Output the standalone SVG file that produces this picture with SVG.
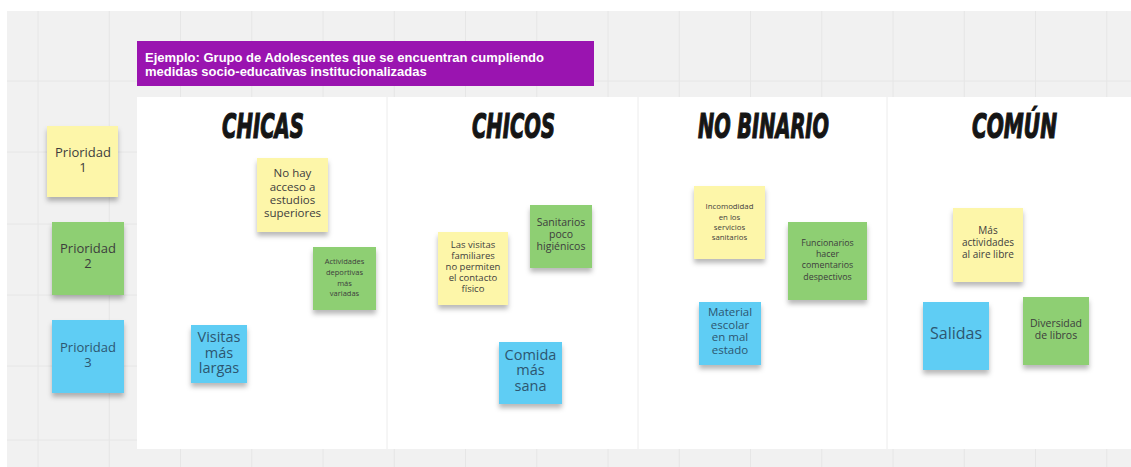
<svg xmlns="http://www.w3.org/2000/svg" width="1131" height="467" viewBox="0 0 1131 467">
<defs>
<filter id="sh" x="-20%" y="-20%" width="140%" height="150%">
<feDropShadow dx="0" dy="4" stdDeviation="2.5" flood-color="#000" flood-opacity="0.28"/>
</filter>
<style>
.grid{stroke:#e6e6e6;stroke-width:1}
.sep{stroke:#ececec;stroke-width:1}
.y{fill:#fdf6a9}
.g{fill:#8ecf73}
.b{fill:#5fcdf4}
.t{font-family:"Open Sans","DejaVu Sans",sans-serif;fill:#3d3d3d;text-anchor:middle}
.bt{fill:#2d5670}
.h{font-family:"DejaVu Sans Condensed","DejaVu Sans",sans-serif;font-weight:bold;font-style:italic;fill:#151515;stroke:#151515;stroke-width:1.2;font-size:34px}
.ban{font-family:"Liberation Sans",Arial,sans-serif;font-weight:bold;fill:#fff;font-size:13px}
</style>
</defs>
<rect width="1131" height="467" fill="#fff"/>
<rect x="7" y="11" width="1124" height="456" fill="#f1f1f1"/>
<g id="grid">
<path class="grid" d="M38 11V467M109.3 11V467M180.5 11V467M251.8 11V467M323 11V467M394.3 11V467M465.5 11V467M536.8 11V467M608 11V467M679.3 11V467M750.5 11V467M821.8 11V467M893 11V467M964.3 11V467M1035.5 11V467M1106.8 11V467M7 81H1131M7 152H1131M7 224H1131M7 295H1131M7 366H1131M7 440H1131"/>
</g>
<g id="board">
<rect x="137" y="97" width="994" height="352" fill="#fff"/>
<path class="sep" d="M387 97V449M638 97V449M887 97V449"/>
</g>
<g id="banner">
<rect x="137" y="41" width="457" height="45" fill="#9a14b0"/>
<text class="ban" x="145" y="62">Ejemplo: Grupo de Adolescentes que se encuentran cumpliendo</text>
<text class="ban" x="145" y="76">medidas socio-educativas institucionalizadas</text>
</g>
<g id="headers">
<text class="h" x="222" y="138" textLength="82" lengthAdjust="spacingAndGlyphs">CHICAS</text>
<text class="h" x="472" y="138" textLength="83" lengthAdjust="spacingAndGlyphs">CHICOS</text>
<text class="h" x="698" y="138" textLength="131" lengthAdjust="spacingAndGlyphs">NO BINARIO</text>
<text class="h" x="972" y="138" textLength="85" lengthAdjust="spacingAndGlyphs">COMÚN</text>
</g>
<g id="p1"><rect class="y" x="47" y="126" width="71" height="71" filter="url(#sh)"/>
<text class="t" font-size="13"><tspan x="83" y="157">Prioridad</tspan><tspan x="83" y="172">1</tspan></text></g>
<g id="p2"><rect class="g" x="52" y="222" width="72" height="73" filter="url(#sh)"/>
<text class="t" font-size="13"><tspan x="88" y="253">Prioridad</tspan><tspan x="88" y="268">2</tspan></text></g>
<g id="p3"><rect class="b" x="52" y="320" width="72" height="73" filter="url(#sh)"/>
<text class="t bt" font-size="13"><tspan x="88" y="352">Prioridad</tspan><tspan x="88" y="367">3</tspan></text></g>
<g id="chicas1"><rect class="y" x="257" y="158" width="71" height="74" filter="url(#sh)"/>
<text class="t" font-size="11.5"><tspan x="292.5" y="177">No hay</tspan><tspan x="292.5" y="191">acceso a</tspan><tspan x="292.5" y="204">estudios</tspan><tspan x="292.5" y="217">superiores</tspan></text></g>
<g id="chicas2"><rect class="g" x="313" y="247" width="63" height="63" filter="url(#sh)"/>
<text class="t" font-size="7.5"><tspan x="344.5" y="264">Actividades</tspan><tspan x="344.5" y="275">deportivas</tspan><tspan x="344.5" y="286">más</tspan><tspan x="344.5" y="296">variadas</tspan></text></g>
<g id="chicas3"><rect class="b" x="191" y="325" width="56" height="58" filter="url(#sh)"/>
<text class="t bt" font-size="14.5"><tspan x="219" y="342">Visitas</tspan><tspan x="219" y="358">más</tspan><tspan x="219" y="373">largas</tspan></text></g>
<g id="chicos1"><rect class="y" x="438" y="232" width="70" height="73" filter="url(#sh)"/>
<text class="t" font-size="9.5"><tspan x="473" y="248">Las visitas</tspan><tspan x="473" y="259">familiares</tspan><tspan x="473" y="270">no permiten</tspan><tspan x="473" y="281">el contacto</tspan><tspan x="473" y="292">físico</tspan></text></g>
<g id="chicos2"><rect class="g" x="530" y="205" width="62" height="63" filter="url(#sh)"/>
<text class="t" font-size="10.5"><tspan x="561" y="226">Sanitarios</tspan><tspan x="561" y="238">poco</tspan><tspan x="561" y="250">higiénicos</tspan></text></g>
<g id="chicos3"><rect class="b" x="499" y="342" width="63" height="62" filter="url(#sh)"/>
<text class="t bt" font-size="14.5"><tspan x="530.5" y="360">Comida</tspan><tspan x="530.5" y="375">más</tspan><tspan x="530.5" y="391">sana</tspan></text></g>
<g id="nb1"><rect class="y" x="694" y="186" width="71" height="73" filter="url(#sh)"/>
<text class="t" font-size="7.8"><tspan x="729.5" y="209">Incomodidad</tspan><tspan x="729.5" y="220">en los</tspan><tspan x="729.5" y="230">servicios</tspan><tspan x="729.5" y="240">sanitarios</tspan></text></g>
<g id="nb2"><rect class="g" x="788" y="222" width="79" height="78" filter="url(#sh)"/>
<text class="t" font-size="8.8"><tspan x="827.5" y="246">Funcionarios</tspan><tspan x="827.5" y="257">hacer</tspan><tspan x="827.5" y="268">comentarios</tspan><tspan x="827.5" y="280">despectivos</tspan></text></g>
<g id="nb3"><rect class="b" x="699" y="302" width="62" height="63" filter="url(#sh)"/>
<text class="t bt" font-size="11.5"><tspan x="730" y="316">Material</tspan><tspan x="730" y="329">escolar</tspan><tspan x="730" y="341">en mal</tspan><tspan x="730" y="354">estado</tspan></text></g>
<g id="c1"><rect class="y" x="953" y="208" width="70" height="74" filter="url(#sh)"/>
<text class="t" font-size="10"><tspan x="988" y="234">Más</tspan><tspan x="988" y="246">actividades</tspan><tspan x="988" y="258">al aire libre</tspan></text></g>
<g id="c2"><rect class="b" x="923" y="302" width="66" height="68" filter="url(#sh)"/>
<text class="t bt" font-size="16"><tspan x="956" y="339">Salidas</tspan></text></g>
<g id="c3"><rect class="g" x="1023" y="297" width="66" height="68" filter="url(#sh)"/>
<text class="t" font-size="10.5"><tspan x="1056" y="327">Diversidad</tspan><tspan x="1056" y="339">de libros</tspan></text></g>
<g id="connectors"></g>
</svg>
